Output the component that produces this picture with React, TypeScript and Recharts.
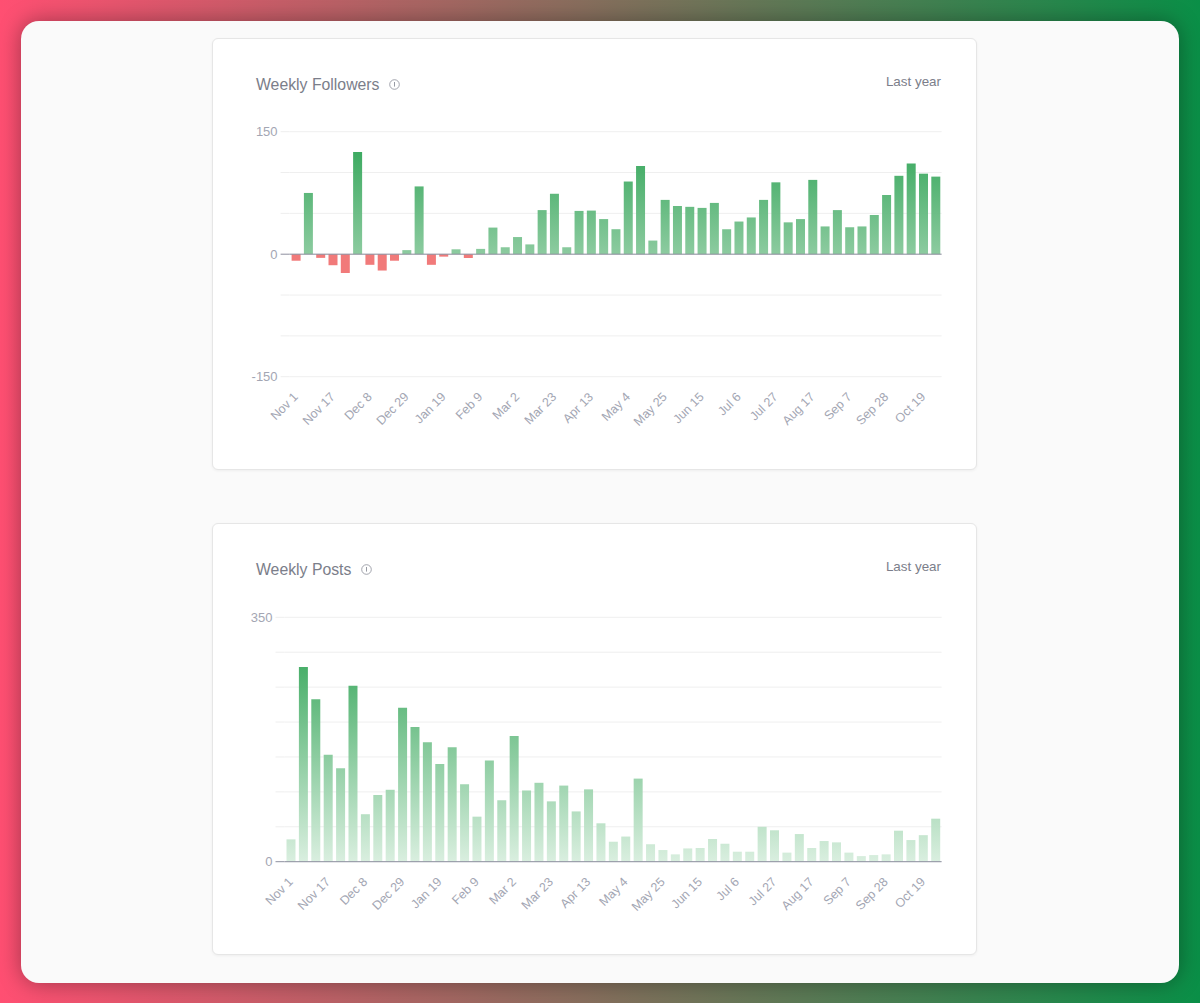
import { BarChart, Bar, XAxis, YAxis, CartesianGrid, Cell, ReferenceLine } from "recharts";

const weeks = [
  "Nov 1", "Nov 3", "Nov 10", "Nov 17", "Nov 24", "Dec 1", "Dec 8", "Dec 15", "Dec 22", "Dec 29",
  "Jan 5", "Jan 12", "Jan 19", "Jan 26", "Feb 2", "Feb 9", "Feb 16", "Feb 23", "Mar 2", "Mar 9",
  "Mar 16", "Mar 23", "Mar 30", "Apr 6", "Apr 13", "Apr 20", "Apr 27", "May 4", "May 11", "May 18",
  "May 25", "Jun 1", "Jun 8", "Jun 15", "Jun 22", "Jun 29", "Jul 6", "Jul 13", "Jul 20", "Jul 27",
  "Aug 3", "Aug 10", "Aug 17", "Aug 24", "Aug 31", "Sep 7", "Sep 14", "Sep 21", "Sep 28", "Oct 5",
  "Oct 12", "Oct 19", "Oct 26",
];

const followers = [
  -8, 75, -4.5, -13.5, -23, 125, -13, -20, -8, 5,
  83, -13, -3, 6, -4.5, 6.5, 32.6, 8.5, 21, 12,
  54, 74, 8.5, 53, 53.4, 43, 30.6, 89, 108, 16.7,
  66.5, 59, 58, 56.7, 62.8, 30.6, 40, 45, 66.5, 88,
  39, 43, 91, 34, 54, 33, 34, 48, 72.5, 96,
  111, 98.6, 95,
];

const posts = [
  32, 279, 232.5, 153, 134, 252, 68, 95.5, 103, 220.6,
  193, 171, 140, 164, 111, 64.5, 145, 88, 180, 102,
  113, 86.4, 109, 72, 103.6, 55, 28.6, 36, 119, 25,
  16.7, 10.5, 19, 19.6, 32.5, 25.8, 14.3, 14.3, 50, 45,
  13, 39.6, 19.6, 29.6, 27.7, 13, 8, 9.5, 10.5, 44.4,
  31, 38, 61.6,
];

const followerTicks = [-150, -100, -50, 0, 50, 100, 150];
const followerLabels = [-150, 0, 150];
const postTicks = [0, 50, 100, 150, 200, 250, 300, 350];
const postLabels = [0, 350];

const FONT = '"Liberation Sans", Arial, sans-serif';
const LABEL = "#a3a6b3";

function YTick({ x, y, payload, labels }: any) {
  const v = payload.value;
  return (
    <g>
      <line x1={x + 3} x2={x + 12} y1={y} y2={y} stroke={v === 0 ? "#8d8f9f" : "#eeeeee"} />
      {labels.includes(v) && (
        <text x={x} y={y} dy={4.5} textAnchor="end" fontSize={13} fontFamily={FONT} fill={LABEL}>
          {v}
        </text>
      )}
    </g>
  );
}

function XTick({ x, y, payload }: any) {
  return (
    <text
      x={x + 3}
      y={y + 13}
      textAnchor="end"
      fontSize={12.5}
      fontFamily={FONT}
      fill={LABEL}
      transform={`rotate(-45 ${x + 3} ${y + 13})`}
    >
      {payload.value}
    </text>
  );
}

function InfoIcon() {
  return (
    <svg width="11" height="11" viewBox="0 0 11 11" style={{ display: "block" }}>
      <circle cx="5.5" cy="5.5" r="4.8" fill="none" stroke="#8b8e99" strokeWidth="0.8" />
      <line x1="5.5" x2="5.5" y1="3" y2="7.6" stroke="#8b8e99" strokeWidth="0.9" />
    </svg>
  );
}

function Card({ top, title, iconLeft, values, ticks, labels, domain, axisWidth, marginTop, gradId, gradTop, gradBottom, colorTop, colorBottom }: any) {
  const data = weeks.map((week, i) => ({ week, value: values[i] }));
  return (
    <div
      style={{
        position: "absolute",
        left: 212,
        top,
        width: 765,
        height: 432,
        boxSizing: "border-box",
        background: "#fff",
        border: "1px solid #e6e6e6",
        borderRadius: 6,
        boxShadow: "0 1px 3px rgba(0,0,0,0.05)",
      }}
    >
      <div style={{ position: "absolute", left: 43, top: 37, fontSize: 15.8, lineHeight: "18px", color: "#7b7e8a", fontFamily: FONT }}>
        {title}
      </div>
      <div style={{ position: "absolute", left: iconLeft, top: 40 }}>
        <InfoIcon />
      </div>
      <div style={{ position: "absolute", right: 35, top: 35, fontSize: 13.4, lineHeight: "16px", color: "#7b7e8a", fontFamily: FONT }}>
        Last year
      </div>
      <div style={{ position: "absolute", left: -1, top: -1 }}>
        <BarChart
          width={765}
          height={432}
          data={data}
          barSize={9}
          margin={{ top: marginTop, right: 35.4, bottom: 33.3, left: 0 }}
        >
          <defs>
            <linearGradient id={gradId} gradientUnits="userSpaceOnUse" x1="0" x2="0" y1={gradTop} y2={gradBottom}>
              <stop offset="0" stopColor={colorTop} />
              <stop offset="1" stopColor={colorBottom} />
            </linearGradient>
          </defs>
          <CartesianGrid vertical={false} stroke="#efefef" />
          <XAxis dataKey="week" interval={2} height={60} axisLine={false} tickLine={false} tick={<XTick />} />
          <YAxis
            width={axisWidth}
            domain={domain}
            ticks={ticks}
            interval={0}
            axisLine={false}
            tickLine={false}
            tickSize={8}
            tickMargin={4}
            tick={<YTick labels={labels} />}
          />
          <ReferenceLine y={0} stroke="#8d8f9f" />
          <Bar dataKey="value" isAnimationActive={false} fillOpacity={0.96}>
            {data.map((d) => (
              <Cell key={d.week} fill={d.value < 0 ? "#f07575" : `url(#${gradId})`} />
            ))}
          </Bar>
        </BarChart>
      </div>
    </div>
  );
}

export default function App() {
  return (
    <div
      style={{
        position: "absolute",
        left: 0,
        top: 0,
        width: 1200,
        height: 1003,
        overflow: "hidden",
        background: "linear-gradient(90deg, #ff4f72 0%, #0a8f47 100%)",
      }}
    >
      <div
        style={{
          position: "absolute",
          left: 21,
          top: 21,
          width: 1158,
          height: 962,
          borderRadius: 18,
          background: "#fafafa",
          boxShadow: "0 0 22px rgba(0,0,0,0.35)",
        }}
      />
      <Card
        top={38}
        title="Weekly Followers"
        iconLeft={176}
        values={followers}
        ticks={followerTicks}
        labels={followerLabels}
        domain={[-150, 150]}
        axisWidth={77.6}
        marginTop={93.7}
        gradId="followersFill"
        gradTop={93.7}
        gradBottom={216.5}
        colorTop="#25a04e"
        colorBottom="#88c99c"
      />
      <Card
        top={523}
        title="Weekly Posts"
        iconLeft={147.5}
        values={posts}
        ticks={postTicks}
        labels={postLabels}
        domain={[0, 350]}
        axisWidth={72.5}
        marginTop={94.3}
        gradId="postsFill"
        gradTop={94.3}
        gradBottom={338.7}
        colorTop="#1c9b45"
        colorBottom="#d8eede"
      />
    </div>
  );
}
